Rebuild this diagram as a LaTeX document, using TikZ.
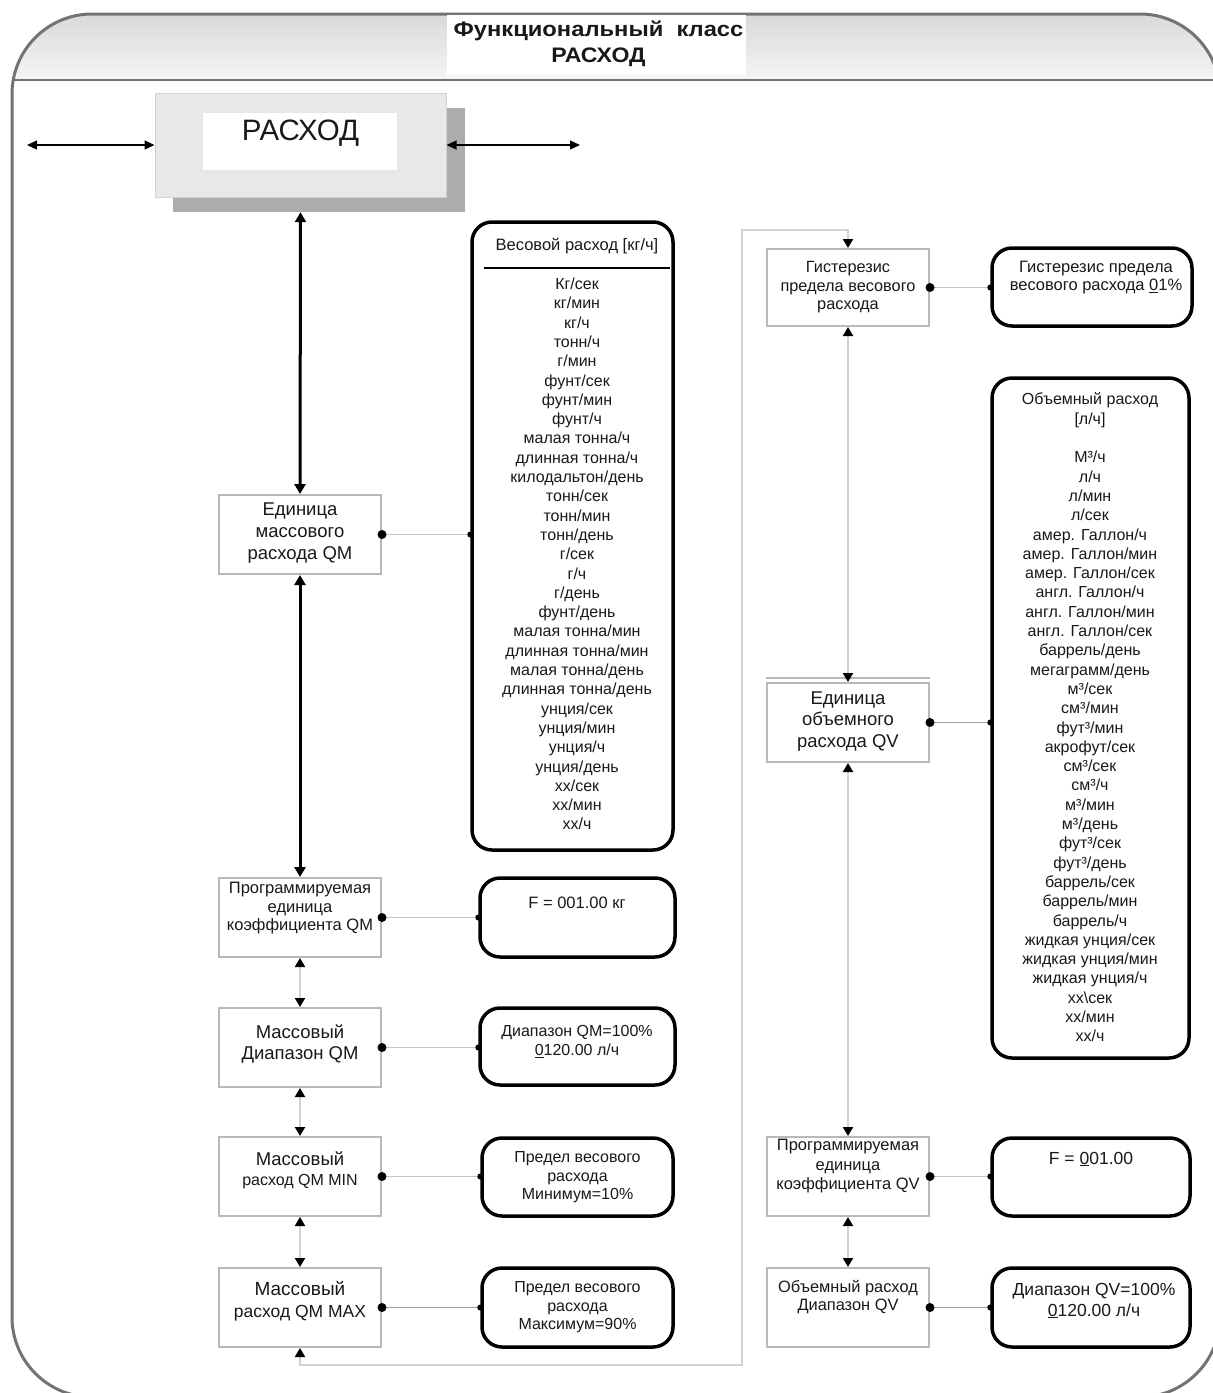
\documentclass[tikz,border=0pt]{standalone}
\usepackage{fontspec}
\setmainfont{Liberation Sans}
\usepackage{graphicx}
\usetikzlibrary{arrows.meta,calc}

\tikzset{
  sqbox/.style={draw=gray!55, line width=2pt, fill=white, minimum width=162pt, minimum height=79pt, inner sep=0pt},
  rndbox/.style={draw=black, line width=3.5pt, rounded corners=20pt, fill=white, inner sep=0pt},
  lbl/.style={align=center, inner sep=0pt, text=black!90},
  thickflow/.style={draw=black, line width=3pt, {Triangle[width=11pt,length=10pt]}-{Triangle[width=11pt,length=10pt]}},
  thinflow/.style={draw=black, line width=1.3pt, {Triangle[width=9pt,length=10pt]}-{Triangle[width=9pt,length=10pt]}},
  flow/.style={draw=gray!35, line width=2pt, {Triangle[width=10pt,length=9pt,color=black]}-{Triangle[width=10pt,length=9pt,color=black]}},
  link/.style={draw=gray!45, line width=1.6pt},
  darklink/.style={draw=gray!75, line width=1.6pt},
  frame/.style={draw=black!55, line width=3pt},
}

\begin{document}
\begin{tikzpicture}[x=1pt,y=-1pt]
\useasboundingbox (0,0) rectangle (1213,1393);
\clip (0,0) rectangle (1213,1393);

% outer frame with shaded header band
\begin{scope}
  \clip[rounded corners=80pt] (12,14) rectangle (1220,1397);
  \fill[top color=gray!30, bottom color=gray!8] (0,14) rectangle (1220,80);
\end{scope}
\draw[frame, rounded corners=80pt] (12,14) rectangle (1220,1397);
\draw[draw=black!55, line width=2.5pt] (12,80) -- (1213,80);

% title
\node[fill=white, minimum width=299pt, minimum height=60pt, inner sep=0pt] (titlebg) at (596.5,45) {};
\node[lbl, font=\bfseries\fontsize{21}{26}\selectfont] (title) at (598.5,44)
  {\scalebox{1.13}[1]{Функциональный\ \ класс}\\\scalebox{1.1}[1]{РАСХОД}};

% top block with shadow
\node[fill=gray!65, minimum width=292pt, minimum height=104pt, inner sep=0pt] (rashsh) at (319,160) {};
\node[fill=gray!18, draw=gray!35, line width=1pt, minimum width=291pt, minimum height=104pt, inner sep=0pt] (rash) at (300.5,145) {};
\node[fill=white, minimum width=194pt, minimum height=57pt, inner sep=0pt] (rashin) at (300,141.5) {};
\node[lbl, font=\fontsize{29.5}{34}\selectfont] (rashtxt) at (300.5,133.5) {РАСХОД};

\coordinate (lfree) at (27,145);
\coordinate (rfree) at (580,145);
\draw[thinflow] (lfree) -- (rash.west);
\draw[thinflow] (rash.east) -- (rfree);

% left column: mass flow
\node[sqbox] (qm)   at (300,534.5) {};
\node[sqbox] (pqm)  at (300,917.5) {};
\node[sqbox] (dqm)  at (300,1047.5) {};
\node[sqbox] (mmin) at (300,1176.5) {};
\node[sqbox] (mmax) at (300,1307.5) {};

\node[lbl, font=\fontsize{18.5}{22}\selectfont] (qmt) at (300,533) {Единица\\массового\\расхода QM};
\node[lbl, font=\fontsize{16.5}{18.5}\selectfont] (pqmt) at (300,908.5) {Программируемая\\единица\\коэффициента QM};
\node[lbl, font=\fontsize{18.5}{21}\selectfont] (dqmt) at (300,1043.5) {Массовый\\Диапазон QM};
\node[lbl, font=\fontsize{16}{20}\selectfont] (mmint) at (300,1170) {{\fontsize{18.5}{20}\selectfont Массовый}\\расход QM MIN};
\node[lbl, font=\fontsize{17.5}{22}\selectfont] (mmaxt) at (300,1301) {{\fontsize{19}{22}\selectfont Массовый}\\расход QM MAX};

% right column: volume flow
\node[sqbox, minimum height=77pt] (hyb) at (848,287.5) {};
\node[sqbox] (vqm) at (848,722.5) {};
\node[sqbox] (pqv) at (848,1176.5) {};
\node[sqbox] (dqv) at (848,1307.5) {};
\draw[gray!55, line width=1.5pt] ($(vqm.north west)+(0,-4)$) -- ($(vqm.north east)+(0,-4)$);

\node[lbl, font=\fontsize{16.3}{18.5}\selectfont] (hybt) at (848,287.5) {Гистерезис\\предела весового\\расхода};
\node[lbl, font=\fontsize{18.5}{21.5}\selectfont] (vqmt) at (848,721.5) {Единица\\объемного\\расхода QV};
\node[lbl, font=\fontsize{16.5}{19.5}\selectfont] (pqvt) at (848,1166.5) {Программируемая\\единица\\коэффициента QV};
\node[lbl, font=\fontsize{16.4}{18}\selectfont] (dqvt) at (848,1297.5) {Объемный расход\\Диапазон QV};

% value boxes
\node[rndbox, minimum width=201pt, minimum height=628pt] (wlist) at (572.5,536) {};
\node[rndbox, minimum width=195pt, minimum height=79pt] (fkg) at (577.5,917.5) {};
\node[rndbox, minimum width=195pt, minimum height=77pt] (dqmv) at (577.5,1046.5) {};
\node[rndbox, minimum width=191pt, minimum height=78pt] (minv) at (577.5,1177) {};
\node[rndbox, minimum width=191pt, minimum height=79pt] (maxv) at (577.5,1307.5) {};
\node[rndbox, minimum width=200pt, minimum height=78pt] (hysv) at (1092,287) {};
\node[rndbox, minimum width=197pt, minimum height=680pt] (vlist) at (1090.5,718) {};
\node[rndbox, minimum width=198pt, minimum height=78pt] (fqv) at (1091,1177) {};
\node[rndbox, minimum width=198pt, minimum height=79pt] (dqvv) at (1091,1307.5) {};

% mass flow unit list
\node[lbl, font=\fontsize{16.5}{19}\selectfont] (wlh) at (577,246) {Весовой расход [кг/ч]};
\draw[black, line width=2.2pt] ($(wlist.north west)+(14,48)$) -- ($(wlist.north east)+(-5,48)$);
\node[lbl, font=\fontsize{16}{19.3}\selectfont] (wli) at (577,554) {Кг/сек\\кг/мин\\кг/ч\\тонн/ч\\г/мин\\фунт/сек\\фунт/мин\\фунт/ч\\малая тонна/ч\\длинная тонна/ч\\килодальтон/день\\тонн/сек\\тонн/мин\\тонн/день\\г/сек\\г/ч\\г/день\\фунт/день\\малая тонна/мин\\длинная тонна/мин\\малая тонна/день\\длинная тонна/день\\унция/сек\\унция/мин\\унция/ч\\унция/день\\хх/сек\\хх/мин\\хх/ч};

% volume flow unit list
\node[lbl, font=\fontsize{16}{19.3}\selectfont] (vli) at (1090,717.5) {Объемный расход\\{[л/ч]}\\[19.3pt]М³/ч\\л/ч\\л/мин\\л/сек\\амер. Галлон/ч\\амер. Галлон/мин\\амер. Галлон/сек\\англ. Галлон/ч\\англ. Галлон/мин\\англ. Галлон/сек\\баррель/день\\мегаграмм/день\\м³/сек\\см³/мин\\фут³/мин\\акрофут/сек\\см³/сек\\см³/ч\\м³/мин\\м³/день\\фут³/сек\\фут³/день\\баррель/сек\\баррель/мин\\баррель/ч\\жидкая унция/сек\\жидкая унция/мин\\жидкая унция/ч\\хх\textbackslash сек\\хх/мин\\хх/ч};

% value texts
\node[lbl, font=\fontsize{16.5}{19}\selectfont] (fkgt) at (577,903) {F = 001.00 кг};
\node[lbl, font=\fontsize{16}{19}\selectfont] (dqmvt) at (577,1041.5) {Диапазон QM=100\%\\\underline{0}120.00 л/ч};
\node[lbl, font=\fontsize{16}{18.5}\selectfont] (minvt) at (577.5,1177.5) {Предел весового\\расхода\\Минимум=10\%};
\node[lbl, font=\fontsize{16}{18.5}\selectfont] (maxvt) at (577.5,1307.5) {Предел весового\\расхода\\Максимум=90\%};
\node[lbl, font=\fontsize{16.5}{18}\selectfont] (hysvt) at (1096,278) {Гистерезис предела\\весового расхода \underline{0}1\%};
\node[lbl, font=\fontsize{17.5}{21}\selectfont] (fqvt) at (1091,1159) {F = \underline{0}01.00};
\node[lbl, font=\fontsize{17.5}{21}\selectfont] (dqvvt) at (1094,1300.5) {Диапазон QV=100\%\\\underline{0}120.00 л/ч};

% flow between menu items
\draw[thickflow] (rash.south |- rashsh.south) -- (qm.north);
\draw[thickflow] (qm.south) -- (pqm.north);
\draw[flow] (pqm.south) -- (dqm.north);
\draw[flow] (dqm.south) -- (mmin.north);
\draw[flow] (mmin.south) -- (mmax.north);
\coordinate (loopA) at (742,1365);
\coordinate (loopB) at (742,230);
\draw[flow] (mmax.south) |- (loopA) -- (loopB) -| (hyb.north);
\draw[flow] (hyb.south) -- (vqm.north);
\draw[flow] (vqm.south) -- (pqv.north);
\draw[flow] (pqv.south) -- (dqv.north);

% links from menu items to their values
\draw[link] (qm.east) -- (qm.east -| wlist.west);
\draw[link] (pqm.east) -- (pqm.east -| fkg.west);
\draw[link] (dqm.east) -- (dqm.east -| dqmv.west);
\draw[link] (mmin.east) -- (mmin.east -| minv.west);
\draw[darklink] (mmax.east) -- (mmax.east -| maxv.west);
\draw[link] (hyb.east) -- (hyb.east -| hysv.west);
\draw[darklink] (vqm.east) -- (vqm.east -| vlist.west);
\draw[link] (pqv.east) -- (pqv.east -| fqv.west);
\draw[darklink] (dqv.east) -- (dqv.east -| dqvv.west);
\foreach \n/\v in {qm/wlist, pqm/fkg, dqm/dqmv, mmin/minv, mmax/maxv, hyb/hysv, vqm/vlist, pqv/fqv, dqv/dqvv}{
  \fill[black] (\n.east) circle (4.5pt);
  \fill[black] (\n.east -| \v.west) circle (3pt);
}
\end{tikzpicture}
\end{document}
